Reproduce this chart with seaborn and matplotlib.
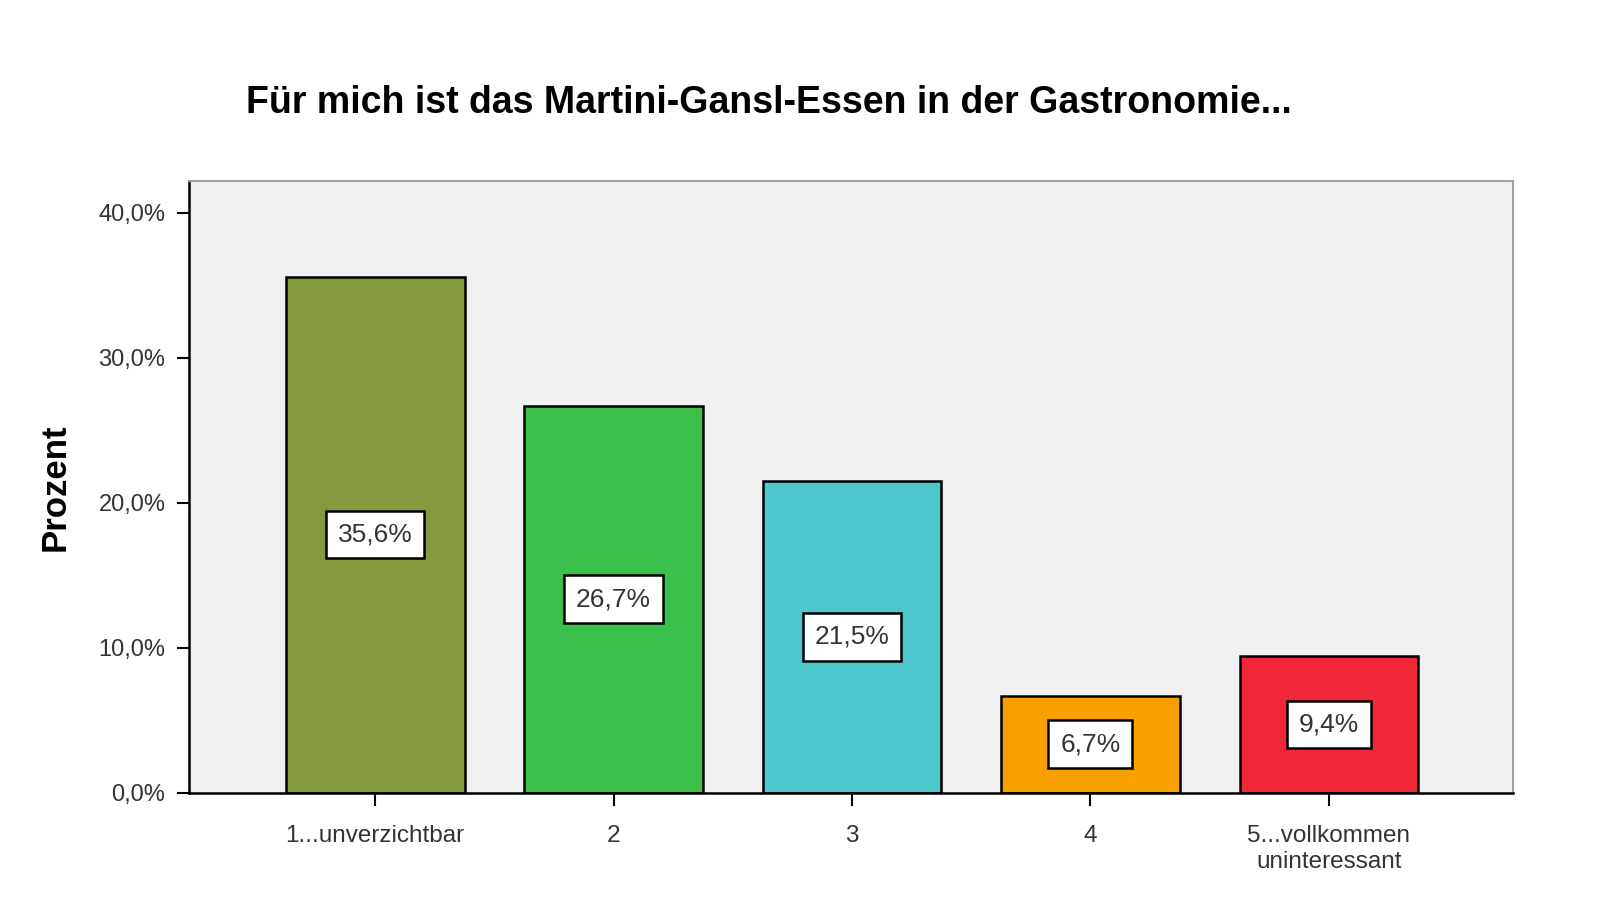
import matplotlib
matplotlib.use("Agg")
import matplotlib.pyplot as plt
import seaborn as sns
import pandas as pd
from matplotlib.ticker import FuncFormatter

categories = ["1...unverzichtbar", "2", "3", "4", "5...vollkommen\nuninteressant"]
values = [35.6, 26.7, 21.5, 6.7, 9.4]
colors = ["#849A3C", "#3CC04C", "#4EC8CC", "#F9A000", "#F0283A"]
title = "Für mich ist das Martini-Gansl-Essen in der Gastronomie..."
ylabel = "Prozent"
yticks = [0, 10, 20, 30, 40]

sns.set_theme(style="white")
plt.rcParams['font.family'] = ['Liberation Sans', 'DejaVu Sans']

df = pd.DataFrame({"cat": categories, "val": values})

fig = plt.figure(figsize=(16.16, 9.09), dpi=100)
ax = fig.add_axes([0.117, 0.128, 0.819, 0.673])
sns.barplot(data=df, x="cat", y="val", hue="cat", palette=colors, legend=False,
            width=0.75, edgecolor="black", linewidth=1.8, saturation=1, ax=ax, zorder=2)

ax.set_facecolor("#F0F0F0")
ax.set_xlim(-0.78, 4.77)
ax.set_ylim(0, 42.2)
ax.set_yticks(yticks)
ax.yaxis.set_major_formatter(FuncFormatter(lambda v, p: f"{v:.1f}%".replace(".", ",")))
ax.tick_params(axis="both", which="both", direction="out", length=9, width=1.5,
               color="black", labelcolor="#333333")
ax.tick_params(axis="y", left=True, pad=8, labelsize=17)
ax.tick_params(axis="x", bottom=True, pad=14, labelsize=17.5)
for lab in ax.get_xticklabels():
    lab.set_linespacing(1.25)

ax.set_xlabel("")
ax.set_ylabel(ylabel, fontsize=25, fontweight="bold", labelpad=19, color="black")
for s in ["left", "bottom"]:
    ax.spines[s].set_color("black")
    ax.spines[s].set_linewidth(1.8)
for s in ["top", "right"]:
    ax.spines[s].set_color("#A0A0A0")
    ax.spines[s].set_linewidth(1.5)

for i, v in enumerate(values):
    ax.text(i, v / 2, f"{v:.1f}%".replace(".", ","), ha="center", va="center",
            fontsize=19, color="#333333", zorder=5,
            bbox=dict(boxstyle="square,pad=0.45", facecolor="white", edgecolor="black", linewidth=1.8))

fig.text(0.476, 0.887, title, ha="center", va="center", fontsize=27, fontweight="bold", color="black")

fig.savefig("out.png", dpi=100, facecolor="white")
